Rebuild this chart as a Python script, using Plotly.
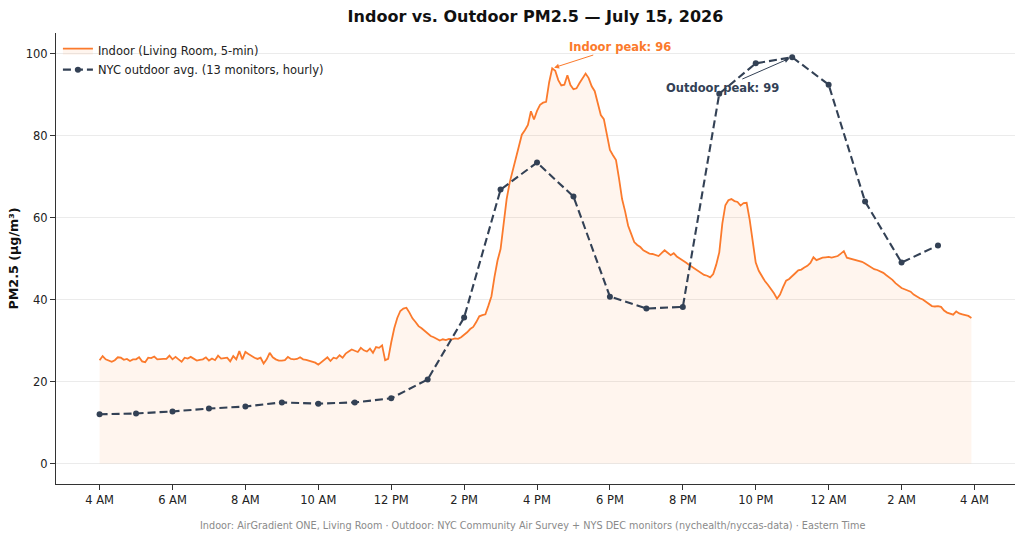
import pandas as pd
import plotly.graph_objects as go

# ---------------- data ----------------
indoor_start = "2026-07-15 04:00"
indoor_pm25 = [
    25.2, 26.2, 25.4, 25.0, 24.8, 25.2, 25.9, 25.8, 25.3, 25.5, 25.0, 25.4,
    25.4, 25.9, 24.9, 24.7, 25.8, 25.7, 26.1, 25.4, 25.5, 25.5, 25.5, 26.3,
    25.4, 26.0, 25.4, 24.8, 25.8, 25.6, 26.0, 25.5, 25.1, 25.3, 25.4, 25.9,
    25.1, 25.6, 25.2, 26.3, 25.6, 25.7, 25.8, 24.9, 26.2, 25.4, 27.4, 25.4,
    27.2, 26.7, 26.2, 25.8, 25.5, 25.8, 24.4, 25.4, 27.0, 25.9, 25.4, 25.1,
    25.1, 25.2, 26.0, 25.5, 25.4, 25.5, 25.9, 25.4, 25.3, 25.1, 24.9, 24.6,
    24.1, 24.7, 25.4, 25.9, 25.0, 25.8, 25.6, 26.4, 25.8, 26.8, 27.3, 27.8,
    27.5, 27.2, 28.2, 27.6, 27.3, 28.0, 27.0, 28.4, 28.2, 28.8, 25.2, 25.5,
    29.5, 33.0, 35.5, 37.2, 37.8, 38.0, 36.8, 35.4, 34.5, 33.5, 33.0, 32.4,
    31.8, 31.1, 30.8, 30.4, 30.0, 30.3, 30.1, 30.4, 30.3, 30.5, 30.4, 30.8,
    31.3, 32.0, 32.8, 33.3, 34.5, 35.9, 36.2, 36.4, 38.5, 40.8, 45.5, 49.5,
    52.3, 58.5, 64.5, 68.5, 71.5, 74.8, 77.5, 80.2, 81.3, 82.6, 85.9, 83.9,
    86.0, 87.5, 88.0, 88.2, 93.0, 96.4, 95.8, 93.5, 92.2, 92.4, 94.7, 92.3,
    91.3, 91.5, 92.8, 94.0, 95.1, 94.0, 92.0, 90.8, 88.0, 85.0, 84.0, 80.0,
    76.5, 75.2, 74.0, 69.5, 64.5, 61.5, 58.0, 56.0, 54.0, 53.3, 52.8, 52.0,
    51.5, 51.2, 51.1, 50.8, 50.6, 51.3, 52.0, 51.4, 50.8, 51.3, 50.5, 50.0,
    49.6, 49.0, 48.5, 48.0, 47.6, 47.2, 46.5, 46.0, 45.8, 45.4, 46.2, 48.5,
    51.5, 58.5, 63.0, 64.2, 64.5, 64.0, 63.8, 62.9, 63.5, 63.6, 59.5, 53.5,
    49.0, 47.0, 45.6, 44.5, 43.6, 42.6, 41.5, 40.2, 41.2, 43.0, 44.6, 45.0,
    45.6, 46.4, 47.1, 47.3, 47.8, 48.2, 48.9, 50.3, 49.6, 49.9, 50.2, 50.3,
    50.4, 50.2, 50.4, 50.6, 51.2, 51.8, 50.2, 50.0, 49.9, 49.6, 49.4, 49.2,
    48.8, 48.3, 47.7, 47.4, 47.2, 46.9, 46.5, 45.9, 45.4, 44.8, 44.0, 43.4,
    42.8, 42.5, 42.2, 41.9, 41.2, 40.7, 40.3, 40.0, 39.4, 38.9, 38.4, 38.3,
    38.4, 38.2, 37.3, 36.8, 36.5, 36.3, 37.1, 36.6, 36.4, 36.2, 36.0, 35.5,
]
outdoor_start = "2026-07-15 04:00"
outdoor_pm25 = [
    12.0, 12.2, 12.7, 13.4, 13.9, 14.9, 14.6, 14.9, 15.9, 20.5, 35.6, 66.8,
    73.4, 65.1, 40.7, 37.8, 38.2, 90.2, 97.6, 99.1, 92.4, 63.9, 49.0, 53.2,
]
tick_labels = ["4 AM", "6 AM", "8 AM", "10 AM", "12 PM", "2 PM", "4 PM",
               "6 PM", "8 PM", "10 PM", "12 AM", "2 AM", "4 AM"]
y_ticks = [0, 20, 40, 60, 80, 100]

indoor_t = pd.date_range(indoor_start, periods=len(indoor_pm25), freq="5min")
outdoor_t = pd.date_range(outdoor_start, periods=len(outdoor_pm25), freq="h")
tick_vals = pd.date_range(indoor_start, periods=len(tick_labels), freq="2h")

ORANGE = "#fb7a2c"
SLATE = "#334155"
FONT = "DejaVu Sans"

span = indoor_t[-1] - indoor_t[0]
x_range = [indoor_t[0] - span * 0.05, indoor_t[-1] + span * 0.05]

fig = go.Figure()
fig.add_trace(go.Scatter(
    x=indoor_t, y=indoor_pm25, mode="lines", name="Indoor (Living Room, 5-min)",
    line=dict(color=ORANGE, width=1.8), fill="tozeroy",
    fillcolor="rgba(251,122,44,0.08)",
))
fig.add_trace(go.Scatter(
    x=outdoor_t, y=outdoor_pm25, mode="lines+markers",
    name="NYC outdoor avg. (13 monitors, hourly)",
    line=dict(color=SLATE, width=2.1, dash="8px,4px"),
    marker=dict(color=SLATE, size=6),
))

# peak annotations
i_pk = max(range(len(indoor_pm25)), key=lambda i: indoor_pm25[i])
o_pk = max(range(len(outdoor_pm25)), key=lambda i: outdoor_pm25[i])
fig.add_annotation(
    x=indoor_t[i_pk], y=indoor_pm25[i_pk], xref="x", yref="y",
    ax=pd.Timestamp("2026-07-15 18:16"), ay=101.7, axref="x", ayref="y",
    text=f"<b>Indoor peak: {indoor_pm25[i_pk]:.0f}</b>", showarrow=True,
    arrowhead=2, arrowsize=1, arrowwidth=1, arrowcolor=ORANGE, standoff=2,
    font=dict(family=FONT, size=11.5, color=ORANGE),
)
fig.add_annotation(
    x=outdoor_t[o_pk], y=outdoor_pm25[o_pk], xref="x", yref="y",
    ax=pd.Timestamp("2026-07-15 21:06"), ay=91.7, axref="x", ayref="y",
    text=f"<b>Outdoor peak: {outdoor_pm25[o_pk]:.0f}</b>", showarrow=True,
    arrowhead=2, arrowsize=1, arrowwidth=1, arrowcolor=SLATE, standoff=3,
    font=dict(family=FONT, size=11.5, color=SLATE),
)
fig.add_annotation(
    xref="paper", yref="paper", x=0.497, y=-0.093, yanchor="middle", showarrow=False,
    text="Indoor: AirGradient ONE, Living Room · Outdoor: NYC Community Air Survey + NYS DEC monitors (nychealth/nyccas-data) · Eastern Time",
    font=dict(family=FONT, size=9.7, color="#8a8a8a"),
)

fig.update_layout(
    width=1024, height=540,
    margin=dict(l=56, r=9, t=33, b=56),
    paper_bgcolor="white", plot_bgcolor="white",
    font=dict(family=FONT, size=11.5, color="#222"),
    title=dict(text="<b>Indoor vs. Outdoor PM2.5 — July 15, 2026</b>",
               x=0.5, xref="paper", y=1 - 16 / 540, yanchor="middle",
               font=dict(family=FONT, size=16, color="#111")),
    showlegend=True,
    legend=dict(x=0.002, y=0.993, xanchor="left", yanchor="top",
                bgcolor="rgba(255,255,255,0)", font=dict(family=FONT, size=11.5, color="#222"),
                tracegroupgap=0),
    xaxis=dict(range=x_range, tickvals=tick_vals, ticktext=tick_labels,
               showgrid=False, showline=True, linecolor="#333", linewidth=1,
               ticks="outside", ticklen=5, tickcolor="#333", zeroline=False),
    yaxis=dict(range=[-5, 105], tickvals=y_ticks, showgrid=True, gridcolor="#ebebeb",
               gridwidth=1, showline=True, linecolor="#333", linewidth=1,
               ticks="outside", ticklen=5, tickcolor="#333", zeroline=False,
               title=dict(text="<b>PM2.5 (µg/m³)</b>", standoff=4,
                          font=dict(family=FONT, size=12.7, color="#111"))),
)

fig.write_html("out.html")
